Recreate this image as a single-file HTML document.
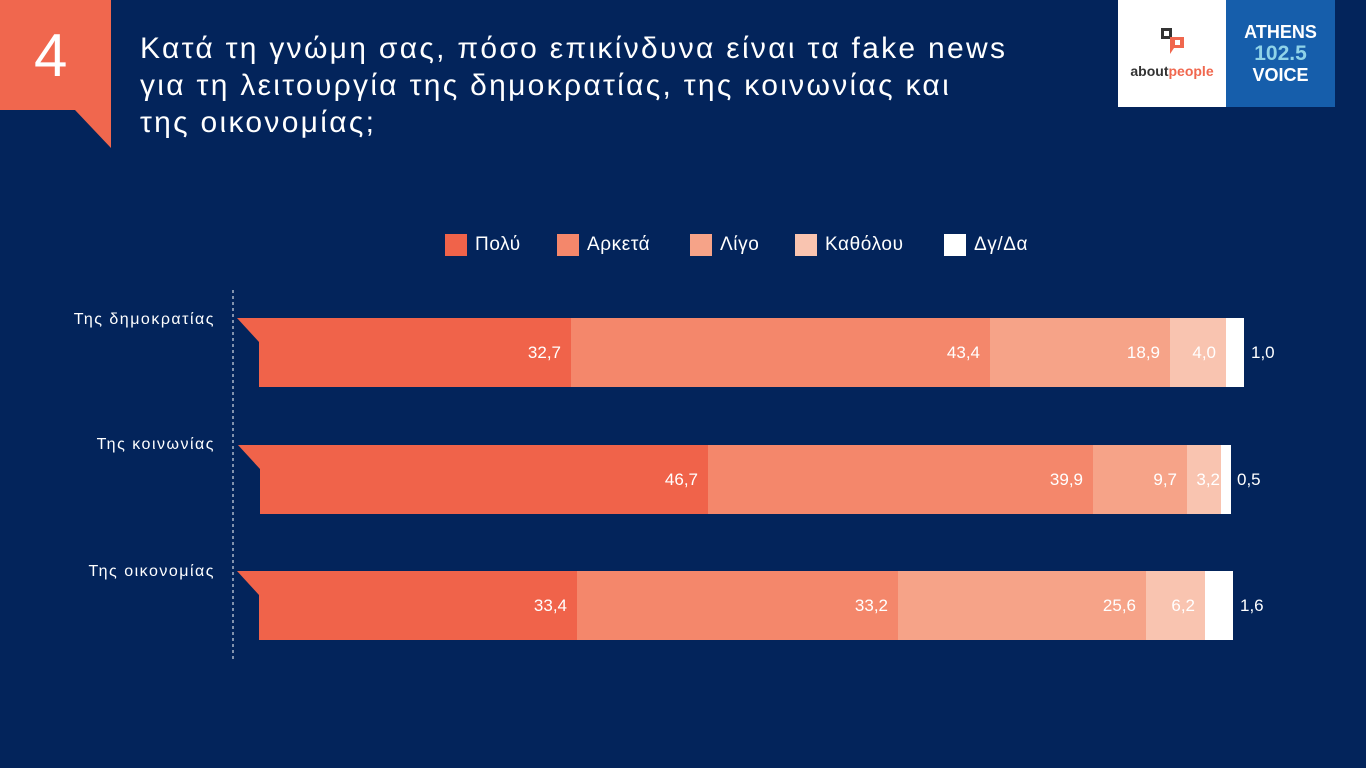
<!DOCTYPE html>
<html><head><meta charset="utf-8"><style>
body{margin:0;width:1366px;height:768px;background:#03245b;overflow:hidden;position:relative;font-family:"Liberation Sans","DejaVu Sans",sans-serif;color:#fff}
.a{position:absolute}
.v{position:absolute;font-size:17px;color:#fff;text-align:right;line-height:20px}
.lg{position:absolute;top:234px;font-size:19px;line-height:22px;letter-spacing:0.6px}
.lg span{display:inline-block;width:22px;height:22px;vertical-align:top;margin-right:8px}
.rl{position:absolute;right:1151px;font-size:16px;letter-spacing:1.5px;white-space:nowrap}
</style></head><body>
<svg class="a" style="left:0;top:0" width="1366" height="768">
<polygon points="0,0 111,0 111,148 75,110 0,110" fill="#f0674e"/>
<rect x="1118" y="0" width="108" height="107" fill="#fff"/>
<rect x="1226" y="0" width="109" height="107" fill="#165eab"/>
<rect x="1161" y="28" width="11" height="11" fill="#333"/>
<rect x="1164" y="31" width="5" height="5" fill="#fff"/>
<polygon points="1170,37 1184,37 1184,48 1174,48 1170,54" fill="#f0674e"/>
<rect x="1175" y="40" width="5" height="5" fill="#fff"/>
<line x1="233" y1="290" x2="233" y2="660" stroke="#fff" stroke-dasharray="3,3" stroke-width="1"/>
<g>
<polygon points="237,318 571,318 571,387 259,387 259,342" fill="#f0634a"/>
<rect x="571" y="318" width="419" height="69" fill="#f4876b"/>
<rect x="990" y="318" width="180" height="69" fill="#f6a388"/>
<rect x="1170" y="318" width="56" height="69" fill="#f9c4b0"/>
<rect x="1226" y="318" width="18" height="69" fill="#fff"/>
</g>
<g>
<polygon points="238,445 708,445 708,514 260,514 260,469" fill="#f0634a"/>
<rect x="708" y="445" width="385" height="69" fill="#f4876b"/>
<rect x="1093" y="445" width="94" height="69" fill="#f6a388"/>
<rect x="1187" y="445" width="34" height="69" fill="#f9c4b0"/>
<rect x="1221" y="445" width="10" height="69" fill="#fff"/>
</g>
<g>
<polygon points="237,571 577,571 577,640 259,640 259,595" fill="#f0634a"/>
<rect x="577" y="571" width="321" height="69" fill="#f4876b"/>
<rect x="898" y="571" width="248" height="69" fill="#f6a388"/>
<rect x="1146" y="571" width="59" height="69" fill="#f9c4b0"/>
<rect x="1205" y="571" width="28" height="69" fill="#fff"/>
</g>
</svg>
<div class="a" style="left:34px;top:20px;font-size:60px;font-weight:300;line-height:72px">4</div>
<div class="a" style="left:140px;top:30px;font-size:30px;letter-spacing:2.3px;line-height:37px;width:1000px;white-space:nowrap">Κατά τη γνώμη σας, πόσο επικίνδυνα είναι τα fake news<br>για τη λειτουργία της δημοκρατίας, της κοινωνίας και<br>της οικονομίας;</div>
<div class="a" style="left:1118px;top:63px;width:108px;text-align:center;font-size:14px;font-weight:bold;color:#333">about<span style="color:#f0674e">people</span></div>
<div class="a" style="left:1226px;top:22px;width:109px;text-align:center;font-weight:bold;line-height:21px;font-size:18px">ATHENS<br><span style="color:#8fd3e8;font-size:21px">102.5</span><br>VOICE</div>
<div class="lg" style="left:445px"><span style="background:#f0634a"></span>Πολύ</div>
<div class="lg" style="left:557px"><span style="background:#f4876b"></span>Αρκετά</div>
<div class="lg" style="left:690px"><span style="background:#f6a388"></span>Λίγο</div>
<div class="lg" style="left:795px"><span style="background:#f9c4b0"></span>Καθόλου</div>
<div class="lg" style="left:944px"><span style="background:#fff"></span>Δγ/Δα</div>
<div class="rl" style="top:311px">Της δημοκρατίας</div>
<div class="rl" style="top:436px">Της κοινωνίας</div>
<div class="rl" style="top:563px">Της οικονομίας</div>
<div class="v" style="right:805px;top:343px">32,7</div>
<div class="v" style="right:386px;top:343px">43,4</div>
<div class="v" style="right:206px;top:343px">18,9</div>
<div class="v" style="right:150px;top:343px">4,0</div>
<div class="v" style="left:1251px;top:343px">1,0</div>
<div class="v" style="right:668px;top:470px">46,7</div>
<div class="v" style="right:283px;top:470px">39,9</div>
<div class="v" style="right:189px;top:470px">9,7</div>
<div class="v" style="right:146px;top:470px">3,2</div>
<div class="v" style="left:1237px;top:470px">0,5</div>
<div class="v" style="right:799px;top:596px">33,4</div>
<div class="v" style="right:478px;top:596px">33,2</div>
<div class="v" style="right:230px;top:596px">25,6</div>
<div class="v" style="right:171px;top:596px">6,2</div>
<div class="v" style="left:1240px;top:596px">1,6</div>
</body></html>
